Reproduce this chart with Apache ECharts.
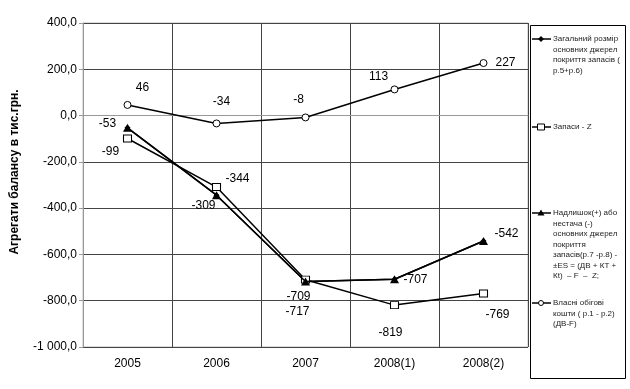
<!DOCTYPE html>
<html>
<head>
<meta charset="utf-8">
<script src="https://cdn.jsdelivr.net/npm/echarts@6/dist/echarts.min.js"></script>
<style>
html,body{margin:0;padding:0;background:#fff;}
#chart{width:630px;height:389px;}
</style>
</head>
<body>
<div id="chart"></div>
<script>
// ---- data ----
var categories = ['2005', '2006', '2007', '2008(1)', '2008(2)'];
var seriesNames = [
  'Загальний розмір основних джерел покриття запасів ( р.5+р.6)',
  'Запаси - Z',
  'Надлишок(+) або нестача (-) основних джерел покриття запасів(р.7 -р.8) - ±ES = (ДВ + КТ + Кt)  – F  –  Z;',
  'Власні обігові кошти ( р.1 - р.2) (ДВ-F)'
];
var totalSources = [-53, -344, -717, -707, -542];
var inventoriesZ = [-99, -309, -709, -819, -769];
var surplusDeficit = [-53, -344, -717, -707, -542];
var ownWorkingCapital = [46, -34, -8, 113, 227];
var yTicks = {min: -1000, max: 400, interval: 200};

// label placement (style only)
var offZ = [[-17, 13], [-13, 19], [-7, 17], [-4, 28], [14, 21]];
var offS = [[-20, -4], [21, -16], [-8, 30], [21, 0], [23, -7]];
var offW = [[15, -17], [5, -22], [-7, -18], [-16, -13], [22, 0]];

function withLabels(vals, offs) {
  return vals.map(function (v, i) {
    return {value: v, label: {offset: offs[i]}};
  });
}

function fmtY(v) {
  var neg = v < 0;
  var a = Math.abs(v);
  var s = a.toFixed(1).split('.');
  var intPart = s[0].replace(/\B(?=(\d{3})+(?!\d))/g, ' ');
  return (neg ? '-' : '') + intPart + ',' + s[1];
}

var FONT = '"Liberation Sans", Arial, sans-serif';
var labelCfg = {
  show: true, position: 'inside', color: '#000', fontSize: 12, fontFamily: FONT,
  formatter: function (p) { return String(p.value); }
};

var chart = echarts.init(document.getElementById('chart'), null, {renderer: 'canvas'});

// legend drawn as graphic
var legendItems = [
  {y: 39, symbol: 'diamond', lines: ['Загальний розмір', 'основних джерел', 'покриття запасів (', 'р.5+р.6)']},
  {y: 127, symbol: 'square', lines: ['Запаси - Z']},
  {y: 213, symbol: 'triangle', lines: ['Надлишок(+) або', 'нестача (-)', 'основних джерел', 'покриття', 'запасів(р.7 -р.8) -', '±ES = (ДВ + КТ +', 'Кt)  – F  –  Z;']},
  {y: 303, symbol: 'circle', lines: ['Власні обігові', 'кошти ( р.1 - р.2)', '(ДВ-F)']}
];
var LH = 10.5;
var graphics = [{
  type: 'rect', shape: {x: 530.5, y: 25.5, width: 95, height: 353},
  style: {fill: '#fff', stroke: '#000', lineWidth: 1}, z: 0
}];
legendItems.forEach(function (it) {
  graphics.push({type: 'line', shape: {x1: 532, y1: it.y, x2: 551, y2: it.y}, style: {stroke: '#000', lineWidth: 1.5}, z: 1});
  var cx = 541, cy = it.y;
  if (it.symbol === 'diamond') {
    graphics.push({type: 'polygon', shape: {points: [[cx, cy - 3], [cx + 3, cy], [cx, cy + 3], [cx - 3, cy]]}, style: {fill: '#000'}, z: 2});
  } else if (it.symbol === 'square') {
    graphics.push({type: 'rect', shape: {x: cx - 3.5, y: cy - 3, width: 7, height: 6}, style: {fill: '#fff', stroke: '#000', lineWidth: 1}, z: 2});
  } else if (it.symbol === 'triangle') {
    graphics.push({type: 'polygon', shape: {points: [[cx, cy - 3.5], [cx + 3.5, cy + 2.5], [cx - 3.5, cy + 2.5]]}, style: {fill: '#000'}, z: 2});
  } else {
    graphics.push({type: 'circle', shape: {cx: cx, cy: cy, r: 2.5}, style: {fill: '#fff', stroke: '#000', lineWidth: 1}, z: 2});
  }
  graphics.push({
    type: 'text', x: 553, y: it.y - LH / 2, z: 2,
    style: {text: it.lines.join('\n'), fill: '#222', font: '8px ' + FONT, lineHeight: LH, verticalAlign: 'top', align: 'left'}
  });
});

var option = {
  backgroundColor: '#fff',
  animation: false,
  grid: {left: 83, right: 102, top: 23, bottom: 42, show: true, borderColor: '#bbb', borderWidth: 1, backgroundColor: 'transparent'},
  xAxis: {
    type: 'category', data: categories, boundaryGap: true,
    axisLine: {lineStyle: {color: '#999', width: 1}},
    axisTick: {show: false},
    axisLabel: {color: '#000', fontSize: 12, fontFamily: FONT, margin: 11},
    splitLine: {show: true, interval: 0, lineStyle: {color: '#444', width: 1}}
  },
  yAxis: {
    type: 'value', min: yTicks.min, max: yTicks.max, interval: yTicks.interval,
    name: 'Агрегати балансу в тис.грн.', nameLocation: 'middle', nameGap: 62, nameRotate: 90,
    nameTextStyle: {color: '#000', fontSize: 12, fontWeight: 'bold', fontFamily: FONT, padding: [0, 0, 0, 26]},
    axisLine: {show: true, lineStyle: {color: '#999', width: 1}},
    axisTick: {show: true, length: 4, lineStyle: {color: '#999'}},
    axisLabel: {color: '#000', fontSize: 12, fontFamily: FONT, margin: 6, formatter: fmtY},
    splitLine: {show: true, lineStyle: {color: '#444', width: 1}}
  },
  graphic: graphics,
  series: [
    {
      name: seriesNames[0], type: 'line', data: totalSources, z: 2,
      symbol: 'diamond', symbolSize: 6, showAllSymbol: true,
      itemStyle: {color: '#000'}, lineStyle: {color: '#000', width: 1.5}
    },
    {
      name: seriesNames[1], type: 'line', data: withLabels(inventoriesZ, offZ), z: 3,
      symbol: 'rect', symbolSize: [8, 7], showAllSymbol: true,
      itemStyle: {color: '#fff', borderColor: '#000', borderWidth: 1},
      lineStyle: {color: '#000', width: 1.5}, label: labelCfg
    },
    {
      name: seriesNames[2], type: 'line', data: withLabels(surplusDeficit, offS), z: 4,
      symbol: 'triangle', symbolSize: [9, 8], showAllSymbol: true,
      itemStyle: {color: '#000'}, lineStyle: {color: '#000', width: 1.5}, label: labelCfg
    },
    {
      name: seriesNames[3], type: 'line', data: withLabels(ownWorkingCapital, offW), z: 5,
      symbol: 'circle', symbolSize: 7, showAllSymbol: true,
      itemStyle: {color: '#fff', borderColor: '#000', borderWidth: 1},
      lineStyle: {color: '#000', width: 1.5}, label: labelCfg
    }
  ]
};
chart.setOption(option);
</script>
</body>
</html>
